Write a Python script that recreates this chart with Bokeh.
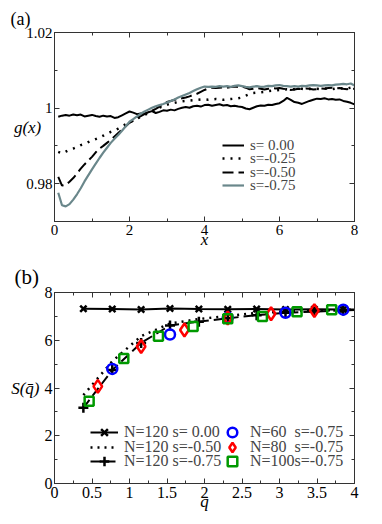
from bokeh.plotting import figure
from bokeh.layouts import column
from bokeh.models import (FixedTicker, CustomJSTickFormatter, LinearAxis, Title,
                          Legend, LegendItem, Range1d)
from bokeh.embed import file_html
from bokeh.resources import INLINE

# ---------------- panel (a): g(x) ----------------
x_g = [0.1, 0.2, 0.3, 0.4, 0.5, 0.6, 0.7, 0.8, 0.9, 1.0,
       1.1, 1.2, 1.3, 1.4, 1.5, 1.6, 1.7, 1.8, 1.9, 2.0,
       2.1, 2.2, 2.3, 2.4, 2.5, 2.6, 2.7, 2.8, 2.9, 3.0,
       3.1, 3.2, 3.3, 3.4, 3.5, 3.6, 3.7, 3.8, 3.9, 4.0,
       4.1, 4.2, 4.3, 4.4, 4.5, 4.6, 4.7, 4.8, 4.9, 5.0,
       5.1, 5.2, 5.3, 5.4, 5.5, 5.6, 5.7, 5.8, 5.9, 6.0,
       6.1, 6.2, 6.3, 6.4, 6.5, 6.6, 6.7, 6.8, 6.9, 7.0,
       7.1, 7.2, 7.3, 7.4, 7.5, 7.6, 7.7, 7.8, 7.9, 8.0]
g_s000 = [0.9977, 0.9980, 0.9982, 0.9980, 0.9983, 0.9981, 0.9983, 0.9978, 0.9980, 0.9982,
          0.9979, 0.9977, 0.9980, 0.9978, 0.9979, 0.9974, 0.9976, 0.9981, 0.9986, 0.9991,
          0.9988, 0.9984, 0.9986, 0.9985, 0.9989, 0.9992, 0.9987, 0.9990, 0.9994, 0.9993,
          0.9996, 0.9994, 0.9998, 1.0001, 1.0003, 1.0001, 1.0005, 1.0006, 1.0004, 1.0008,
          1.0009, 1.0006, 1.0008, 1.0010, 1.0007, 1.0008, 1.0005, 1.0006, 1.0004, 1.0003,
          0.9999, 0.9997, 1.0001, 1.0005, 1.0007, 1.0006, 1.0009, 1.0008, 1.0011, 1.0013,
          1.0019, 1.0027, 1.0022, 1.0016, 1.0014, 1.0011, 1.0015, 1.0019, 1.0022, 1.0025,
          1.0024, 1.0026, 1.0023, 1.0024, 1.0022, 1.0023, 1.0019, 1.0017, 1.0014, 1.0010]
g_s025 = [0.9884, 0.9880, 0.9885, 0.9890, 0.9893, 0.9897, 0.9902, 0.9905, 0.9910, 0.9914,
          0.9918, 0.9922, 0.9927, 0.9932, 0.9937, 0.9941, 0.9946, 0.9952, 0.9957, 0.9963,
          0.9967, 0.9972, 0.9977, 0.9982, 0.9986, 0.9990, 0.9995, 1.0001, 1.0005, 1.0009,
          1.0012, 1.0014, 1.0016, 1.0018, 1.0019, 1.0020, 1.0021, 1.0022, 1.0023, 1.0023,
          1.0022, 1.0023, 1.0024, 1.0023, 1.0022, 1.0023, 1.0024, 1.0025, 1.0026, 1.0028,
          1.0033, 1.0037, 1.0040, 1.0041, 1.0042, 1.0043, 1.0045, 1.0046, 1.0047, 1.0048,
          1.0049, 1.0050, 1.0049, 1.0050, 1.0052, 1.0051, 1.0050, 1.0051, 1.0050, 1.0051,
          1.0050, 1.0052, 1.0051, 1.0050, 1.0052, 1.0051, 1.0053, 1.0052, 1.0054, 1.0053]
g_s050 = [0.9818, 0.9795, 0.9797, 0.9805, 0.9815, 0.9827, 0.9840, 0.9851, 0.9861, 0.9871,
          0.9883, 0.9893, 0.9900, 0.9908, 0.9916, 0.9925, 0.9934, 0.9943, 0.9952, 0.9961,
          0.9967, 0.9973, 0.9979, 0.9984, 0.9989, 0.9993, 0.9998, 1.0004, 1.0010, 1.0016,
          1.0019, 1.0022, 1.0024, 1.0026, 1.0028, 1.0031, 1.0035, 1.0038, 1.0043, 1.0048,
          1.0052, 1.0054, 1.0053, 1.0054, 1.0055, 1.0054, 1.0056, 1.0057, 1.0056, 1.0057,
          1.0054, 1.0050, 1.0051, 1.0053, 1.0051, 1.0049, 1.0051, 1.0053, 1.0052, 1.0053,
          1.0051, 1.0050, 1.0048, 1.0049, 1.0051, 1.0050, 1.0052, 1.0051, 1.0049, 1.0050,
          1.0052, 1.0051, 1.0053, 1.0054, 1.0052, 1.0053, 1.0051, 1.0050, 1.0052, 1.0051]
g_s075 = [0.9776, 0.9743, 0.9740, 0.9746, 0.9758, 0.9772, 0.9788, 0.9806, 0.9822, 0.9838,
          0.9853, 0.9868, 0.9882, 0.9895, 0.9908, 0.9919, 0.9929, 0.9940, 0.9952, 0.9964,
          0.9971, 0.9978, 0.9985, 0.9991, 0.9996, 1.0001, 1.0005, 1.0008, 1.0011, 1.0015,
          1.0019, 1.0023, 1.0028, 1.0032, 1.0036, 1.0040, 1.0045, 1.0050, 1.0054, 1.0057,
          1.0056, 1.0057, 1.0056, 1.0058, 1.0057, 1.0058, 1.0056, 1.0059, 1.0060, 1.0058,
          1.0056, 1.0055, 1.0057, 1.0058, 1.0056, 1.0057, 1.0059, 1.0058, 1.0060, 1.0061,
          1.0059, 1.0058, 1.0057, 1.0058, 1.0057, 1.0059, 1.0058, 1.0060, 1.0061, 1.0060,
          1.0059, 1.0060, 1.0061, 1.0060, 1.0062, 1.0063, 1.0064, 1.0063, 1.0065, 1.0060]
labels_a = ["s=\u00a00.00", "s=-0.25", "s=-0.50", "s=-0.75"]

# ---------------- panel (b): S(q) ----------------
q_n120 = [0.385, 0.77, 1.155, 1.54, 1.925, 2.31, 2.695, 3.08, 3.465, 3.85, 4.235]
S_n120_s000 = [7.32, 7.31, 7.29, 7.33, 7.31, 7.30, 7.31, 7.29, 7.30, 7.29, 7.29]
S_n120_s050 = [3.70, 5.12, 6.17, 6.70, 6.89, 7.02, 7.15, 7.20, 7.25, 7.27, 7.29]
S_n120_s075 = [3.17, 4.75, 5.89, 6.62, 6.78, 6.92, 7.05, 7.15, 7.20, 7.25, 7.28]
q_n60 = [0.77, 1.54, 2.31, 3.08, 3.85]
S_n60 = [4.80, 6.24, 6.95, 7.15, 7.28]
q_n80 = [0.5775, 1.155, 1.7325, 2.31, 2.8875, 3.465]
S_n80 = [4.07, 5.74, 6.43, 6.93, 7.11, 7.24]
q_n100 = [0.462, 0.924, 1.386, 1.848, 2.31, 2.772, 3.234, 3.696]
S_n100 = [3.45, 5.24, 6.17, 6.58, 6.90, 7.00, 7.19, 7.28]
labels_b_left = ["N=120 s=\u00a00.00", "N=120 s=-0.50", "N=120 s=-0.75"]
labels_b_right = ["N=60\u00a0\u00a0s=-0.75", "N=80\u00a0\u00a0s=-0.75", "N=100s=-0.75"]

FONT = "Liberation Serif"
AX = "#333333"
fmt = CustomJSTickFormatter(code="return String(Math.round(tick*1000)/1000);")


def style(p, xt, xm, yt, ym, fs):
    p.grid.visible = False
    p.outline_line_color = AX
    p.background_fill_color = "white"
    p.border_fill_color = "white"
    p.add_layout(LinearAxis(), "above")
    p.add_layout(LinearAxis(), "right")
    for ax in p.xaxis:
        ax.ticker = FixedTicker(ticks=xt, minor_ticks=xm)
    for ax in p.yaxis:
        ax.ticker = FixedTicker(ticks=yt, minor_ticks=ym)
    for ax in p.axis:
        ax.formatter = fmt
        ax.major_tick_in = 5
        ax.major_tick_out = 0
        ax.minor_tick_in = 3
        ax.minor_tick_out = 0
        ax.axis_line_color = AX
        ax.major_tick_line_color = AX
        ax.minor_tick_line_color = AX
        ax.major_label_text_font = FONT
        ax.major_label_text_font_size = fs
        ax.major_label_text_color = "black"
        ax.major_label_standoff = 3
        ax.axis_label_text_font = FONT
        ax.axis_label_text_font_style = "italic"
        ax.axis_label_text_font_size = "17px"
        ax.axis_label_text_color = "black"
    for ax in list(p.above) + list(p.right):
        if isinstance(ax, LinearAxis):
            ax.major_label_text_font_size = "1px"
            ax.major_label_text_color = None
            ax.major_label_standoff = 0
    p.left[0].major_label_standoff = 2
    p.left[0].axis_label_orientation = "horizontal"


def row_legend(p, label, renderers, x, y, gw, gh, fs):
    p.add_layout(Legend(items=[LegendItem(label=label, renderers=renderers)],
                        location=(x, y), padding=0, margin=0, spacing=0,
                        glyph_width=gw, glyph_height=gh, label_height=gh, label_standoff=6,
                        label_text_font=FONT, label_text_font_size=fs,
                        background_fill_alpha=0, border_line_color=None))


# ---- figure (a)
p1 = figure(width=376, height=254, x_range=Range1d(0, 8), y_range=Range1d(0.97, 1.02),
            output_backend="svg", toolbar_location=None,
            min_border_left=54, min_border_right=22, min_border_top=32, min_border_bottom=33)
p1.title = Title(text="(a)", align="left", offset=-44, standoff=8, text_font=FONT,
                 text_font_size="18px", text_font_style="normal", text_color="black")
style(p1, [0, 2, 4, 6, 8], [1, 3, 5, 7], [0.98, 1.0, 1.02], [0.97, 0.99, 1.01], "15px")
p1.left[0].axis_label = "g(x)"
p1.left[0].axis_label_standoff = -18
p1.below[0].axis_label = "x"
p1.below[0].axis_label_standoff = -8

ra0 = p1.line(x_g, g_s000, line_color="black", line_width=2)
ra1 = p1.line(x_g, g_s025, line_color="black", line_width=2.5, line_dash="2 6")
ra2 = p1.line(x_g, g_s050, line_color="black", line_width=2, line_dash="11 5")
ra3 = p1.line(x_g, g_s075, line_color="#6a878b", line_width=2.2)

for lab, r, yy in zip(labels_a, [ra0, ra1, ra2, ra3], [66, 53, 39, 26]):
    row_legend(p1, lab, [r], 168, yy, 22, 20, "15px")

# ---- figure (b)
p2 = figure(width=376, height=262, x_range=Range1d(0, 4), y_range=Range1d(0, 8),
            output_backend="svg", toolbar_location=None,
            min_border_left=54, min_border_right=22, min_border_top=38, min_border_bottom=33)
p2.title = Title(text="(b)", align="left", offset=-40, standoff=7, text_font=FONT,
                 text_font_size="21px", text_font_style="normal", text_color="black")
style(p2, [0, 0.5, 1, 1.5, 2, 2.5, 3, 3.5, 4],
      [0.25, 0.75, 1.25, 1.75, 2.25, 2.75, 3.25, 3.75],
      [0, 2, 4, 6, 8], [1, 3, 5, 7], "16px")
p2.left[0].axis_label = "S(q\u0304)"
p2.left[0].axis_label_standoff = 2
p2.below[0].axis_label = "q\u0304"
p2.below[0].axis_label_standoff = -9

rb0l = p2.line(q_n120, S_n120_s000, line_color="black", line_width=2)
rb1l = p2.line(q_n120, S_n120_s050, line_color="black", line_width=2.5, line_dash="2 5")
rb2l = p2.line(q_n120, S_n120_s075, line_color="black", line_width=2, line_dash="10 5")
rb0m = p2.scatter(q_n120, S_n120_s000, marker="x", size=9, line_color="black", line_width=2.5)
rb2m = p2.scatter(q_n120, S_n120_s075, marker="cross", size=10, line_color="black", line_width=2.5)
rn60 = p2.scatter(q_n60, S_n60, marker="circle", size=10, fill_color=None,
                  line_color="#0000ff", line_width=2.5)
rn80 = p2.scatter(q_n80, S_n80, marker="diamond", size=13, fill_color=None,
                  line_color="#ff0000", line_width=2.5)
rn100 = p2.scatter(q_n100, S_n100, marker="square", size=9, fill_color=None,
                   line_color="#009900", line_width=2.5)

for lab, rs, yy in zip(labels_b_left, [[rb0l, rb0m], [rb1l], [rb2l, rb2m]], [39, 24.5, 10]):
    row_legend(p2, lab, rs, 36, yy, 28, 24, "16px")
for lab, rs, yy in zip(labels_b_right, [[rn60], [rn80], [rn100]], [39, 24.5, 10]):
    row_legend(p2, lab, rs, 166, yy, 24, 24, "16px")

layout = column(p1, p2)
open("out.html", "w").write(file_html(layout, INLINE))
